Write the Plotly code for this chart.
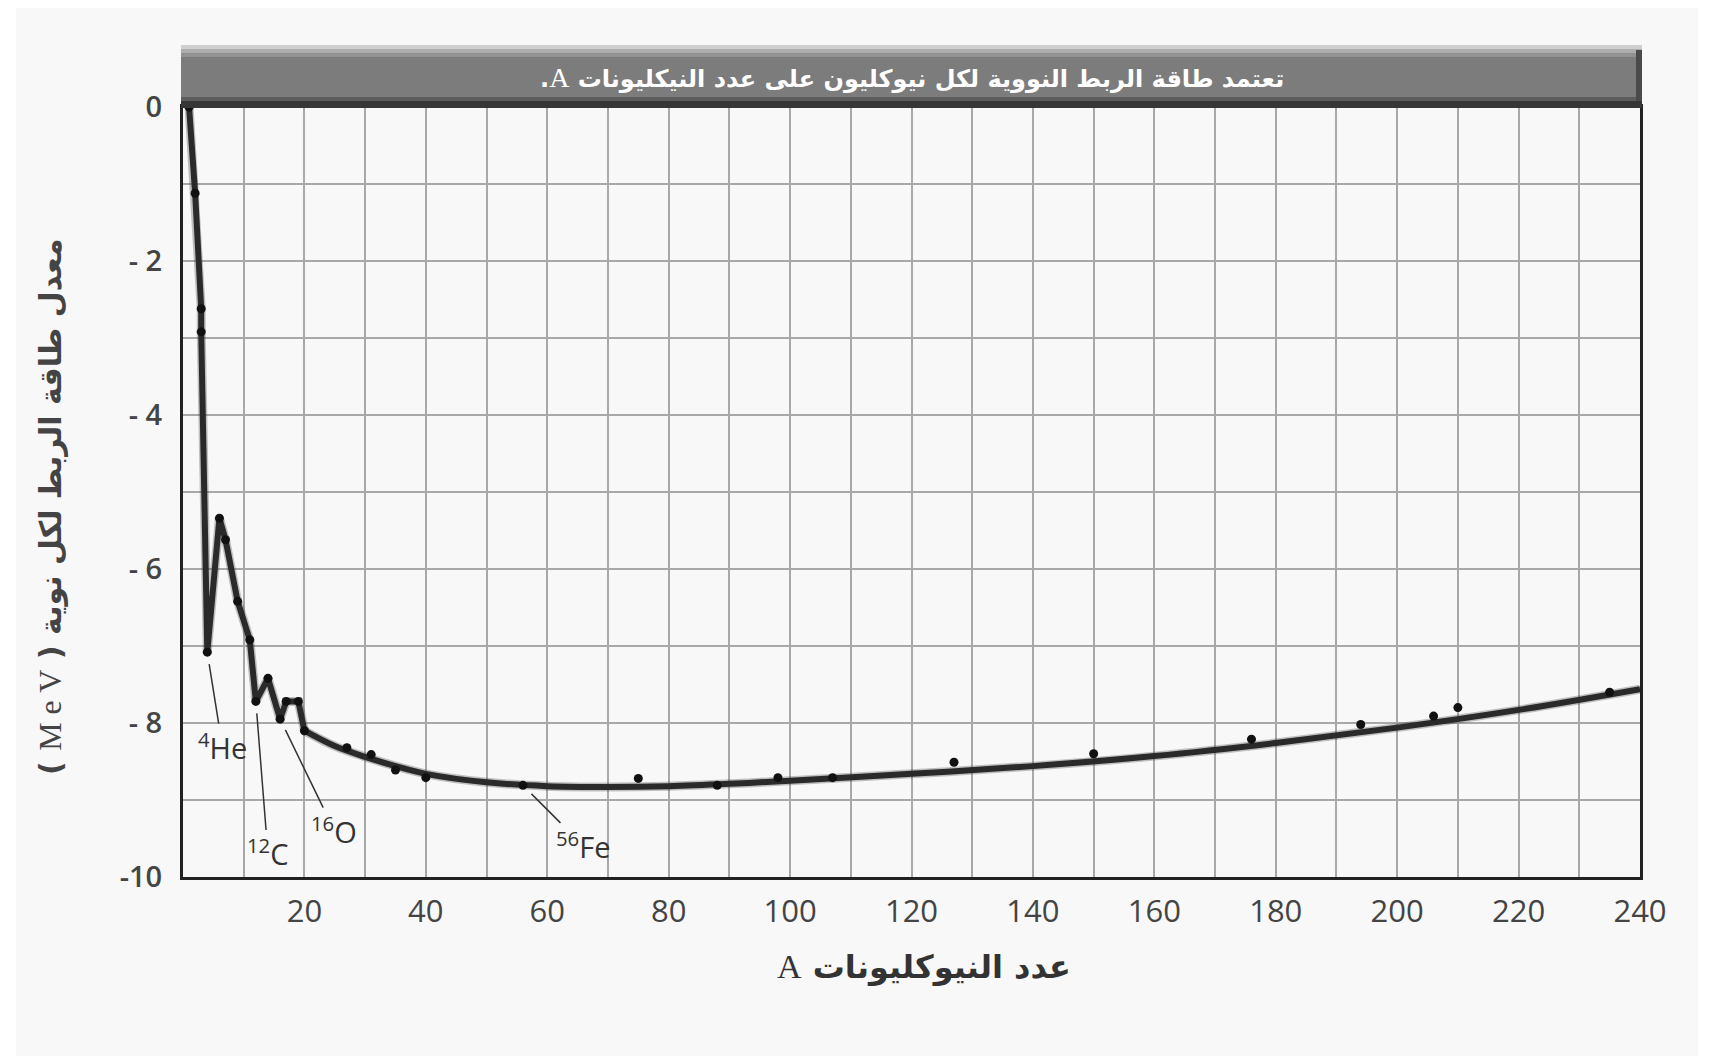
"""Binding energy per nucleon vs. mass number A"""
import plotly.graph_objects as go

# measured nuclides (A, average binding energy per nucleon, MeV)
pts_a = [1, 2, 3, 3, 4, 6, 7, 9, 11, 12, 14, 16, 17, 19, 20,
         27, 31, 35, 40, 56, 75, 88, 98, 107, 127, 150, 176, 194, 206, 210, 235]
pts_e = [0, -1.12, -2.62, -2.92, -7.08, -5.34, -5.62, -6.42, -6.92, -7.72, -7.42, -7.95, -7.72, -7.72, -8.10,
         -8.32, -8.41, -8.61, -8.71, -8.81, -8.72, -8.81, -8.71, -8.71, -8.51, -8.40, -8.21, -8.02, -7.91, -7.80, -7.60]

# smooth trend for heavier nuclei
curve_a = [20, 25, 30, 35, 40, 50, 60, 70, 80, 90, 100, 120, 140, 160, 180, 200, 220, 240]
curve_e = [-8.10, -8.30, -8.44, -8.56, -8.66, -8.77, -8.82, -8.83, -8.82, -8.79, -8.75,
           -8.66, -8.56, -8.43, -8.26, -8.06, -7.83, -7.56]

x_ticks = [20, 40, 60, 80, 100, 120, 140, 160, 180, 200, 220, 240]
y_ticks = [0, -2, -4, -6, -8, -10]
y_ticktext = ["0", "- 2", "- 4", "- 6", "- 8", "-10"]

label_a = [4, 12, 16, 56]
label_text = ["<sup>4</sup>He", "<sup>12</sup>C", "<sup>16</sup>O", "<sup>56</sup>Fe"]
label_off = [(15, 94), (12, 151), (54, 111), (60, 60)]

SERIF = "<span style='font-family:Liberation Serif;font-weight:normal;font-size:%dpx'>%s</span>"
title_txt = "\u202bتعتمد طاقة الربط النووية لكل نيوكليون على عدد النيكليونات " + SERIF % (28, "A") + ".\u202c"
x_title = "\u202bعدد النيوكليونات " + SERIF % (34, "A") + "\u202c"
y_title = "\u202bمعدل طاقة الربط لكل نوية ( " + SERIF % (32, "M e V") + " )\u202c"

# page body adds an 8px margin, so the figure is a bit smaller than the window
OFF = 8
W, H = 1712 - 2 * OFF, 1064 - 2 * OFF
L, R, T, B = 183 - OFF, 1640 - OFF, 107 - OFF, 877 - OFF
AR = "DejaVu Sans"


def px(x):
    return (x - OFF - L) / (R - L)


def py(y):
    return (B - (y - OFF)) / (B - T)


small_a = [a for a in pts_a if a <= 20]
small_e = pts_e[:len(small_a)]

fig = go.Figure()
for w, c in [(9, "rgba(60,60,60,0.3)"), (6, "#2a2a2a")]:
    fig.add_trace(go.Scatter(x=small_a, y=small_e, mode="lines",
                             line=dict(color=c, width=w), hoverinfo="skip", cliponaxis=False))
    fig.add_trace(go.Scatter(x=curve_a, y=curve_e, mode="lines",
                             line=dict(color=c, width=w, shape="spline", smoothing=1.0),
                             hoverinfo="skip", cliponaxis=False))
fig.add_trace(go.Scatter(x=pts_a, y=pts_e, mode="markers",
                         marker=dict(color="#111", size=9), cliponaxis=False))

shapes = [
    dict(type="rect", xref="paper", yref="paper", x0=px(16), x1=px(1698), y0=py(1059), y1=py(3),
         fillcolor="#f8f8f8", line_width=0, layer="below"),
]
# title bar, layered strips to fake the gradient
for y0, y1, col in [(45, 49, "#cfcfcf"), (49, 53, "#adadad"), (53, 57, "#929292"),
                    (57, 97, "#7c7c7c"), (97, 101, "#5c5c5c"), (101, 108, "#363636")]:
    shapes.append(dict(type="rect", xref="paper", yref="paper", x0=px(181), x1=px(1642),
                       y0=py(y1), y1=py(y0), fillcolor=col, line_width=0, layer="above"))
shapes.append(dict(type="rect", xref="paper", yref="paper", x0=px(1636), x1=px(1642),
                   y0=py(101), y1=py(50), fillcolor="#4a4a4a", line_width=0, layer="above"))

ann = [dict(text=title_txt, xref="paper", yref="paper", x=px(912), y=py(77), showarrow=False,
            xanchor="center", yanchor="middle",
            font=dict(family=AR, size=24, color="white", weight="bold")),
       dict(text=x_title, xref="paper", yref="paper", x=px(924), y=py(967), showarrow=False,
            xanchor="center", yanchor="middle",
            font=dict(family=AR, size=32, color="#333", weight="bold")),
       dict(text=y_title, xref="paper", yref="paper", x=px(50), y=py(507), showarrow=False,
            xanchor="center", yanchor="middle",
            textangle=-90, font=dict(family=AR, size=30, color="#444", weight="bold"))]
for a, t, (dx, dy) in zip(label_a, label_text, label_off):
    e = pts_e[pts_a.index(a)]
    ann.append(dict(x=a, y=e, text=t, ax=dx, ay=dy, showarrow=True, arrowhead=0,
                    arrowwidth=1.5, arrowcolor="#333", standoff=12,
                    font=dict(family="Open Sans", size=29, color="#333")))

fig.update_layout(
    width=W, height=H, margin=dict(l=L, r=W - R, t=T, b=H - B),
    paper_bgcolor="#ffffff", plot_bgcolor="#fcfcfc", showlegend=False,
    shapes=shapes, annotations=ann,
    font=dict(family="Open Sans", color="#444"),
)
fig.update_xaxes(range=[0, 240], tickvals=x_ticks, ticktext=[str(v) for v in x_ticks],
                 showgrid=True, gridcolor="#a8a8a8", gridwidth=2,
                 minor=dict(tickmode="linear", tick0=0, dtick=10, showgrid=True,
                            gridcolor="#a8a8a8", gridwidth=2),
                 showline=True, linecolor="#222", linewidth=3, mirror=True,
                 ticks="", ticklabelstandoff=5, zeroline=False,
                 tickfont=dict(size=31, color="#444"))
fig.update_yaxes(range=[-10, 0], tickvals=y_ticks, ticktext=y_ticktext,
                 showgrid=True, gridcolor="#a8a8a8", gridwidth=2,
                 minor=dict(tickmode="linear", tick0=0, dtick=1, showgrid=True,
                            gridcolor="#a8a8a8", gridwidth=2),
                 showline=True, linecolor="#222", linewidth=3, mirror=True,
                 ticks="", ticklabelstandoff=12, zeroline=False,
                 tickfont=dict(size=29, color="#444", weight=600))

fig.write_html("out.html")
